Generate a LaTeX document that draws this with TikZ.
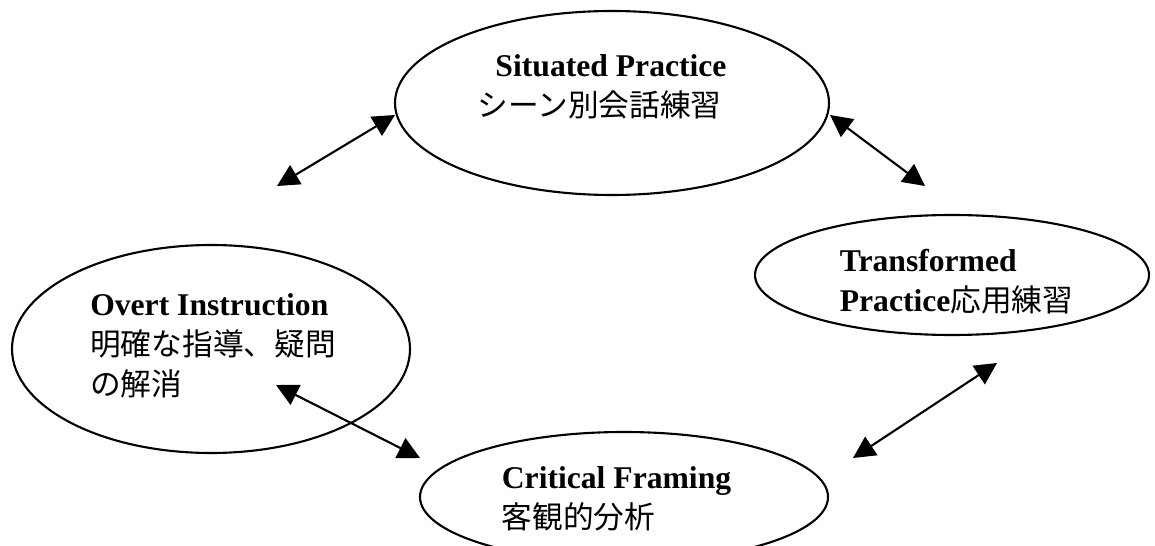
\documentclass[tikz,border=0pt]{standalone}
\usepackage{fontspec}
\setmainfont{Liberation Serif}
\newfontfamily\jp{Noto Sans CJK JP}[Scale=0.97]
\usetikzlibrary{shapes.geometric,arrows.meta}
\begin{document}
\begin{tikzpicture}[
  oval/.style={draw, ellipse, line width=0.6pt, inner sep=0pt},
  lbl/.style={align=left, inner sep=0pt, font=\fontsize{9}{11.3}\selectfont},
  link/.style={line width=0.6pt, {Triangle[length=0.22cm,width=0.22cm]}-{Triangle[length=0.22cm,width=0.22cm]}}]
\useasboundingbox (0,0) rectangle (11.55,-5.46);

\node[oval, minimum width=4.34cm, minimum height=1.84cm] (sp) at (6.12,-1.03) {};
\node[lbl, xshift=-0.10cm, yshift=0.165cm] (sptxt) at (sp) {\hspace*{0.18cm}\textbf{Situated Practice}\\{\jp シーン別会話練習}};

\node[oval, minimum width=3.94cm, minimum height=1.20cm] (tp) at (9.52,-2.75) {};
\node[lbl, xshift=0.045cm, yshift=-0.07cm] (tptxt) at (tp) {\textbf{Transformed}\\\textbf{Practice}{\jp 応用練習}};

\node[oval, minimum width=3.98cm, minimum height=2.08cm] (oi) at (2.11,-3.49) {};
\node[lbl, xshift=0.02cm, yshift=0.03cm] (oitxt) at (oi) {\textbf{Overt Instruction}\\{\jp 明確な指導、疑問}\\{\jp の解消}};

\node[oval, minimum width=4.08cm, minimum height=1.30cm] (cf) at (6.24,-4.97) {};
\node[lbl, xshift=-0.075cm, yshift=-0.015cm] (cftxt) at (cf) {\textbf{Critical Framing}\\{\jp 客観的分析}};

\coordinate (a1) at (2.77,-1.86);
\coordinate (b1) at (3.95,-1.15);
\coordinate (a2) at (8.30,-1.15);
\coordinate (b2) at (9.25,-1.86);
\coordinate (a3) at (2.76,-3.85);
\coordinate (b3) at (4.20,-4.58);
\coordinate (a4) at (8.53,-4.58);
\coordinate (b4) at (9.97,-3.63);

\path[draw,link] (a1) -- (b1);
\path[draw,link] (a2) -- (b2);
\path[draw,link] (a3) -- (b3);
\path[draw,link] (a4) -- (b4);
\end{tikzpicture}
\end{document}
